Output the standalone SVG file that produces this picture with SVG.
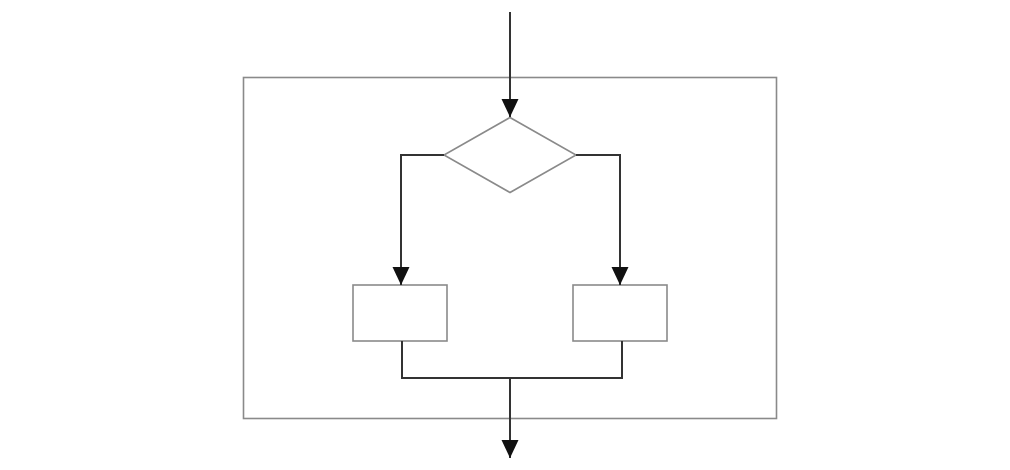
<svg xmlns="http://www.w3.org/2000/svg" width="1010" height="470" viewBox="0 0 1010 470">
<style>
.shape{fill:#fff;stroke:#8a8a8a;stroke-width:1.6}
.frame{fill:none;stroke:#8a8a8a;stroke-width:1.6}
.conn{fill:none;stroke:#333;stroke-width:2}
</style>
<defs>
<marker id="ah" viewBox="0 0 10 10" refX="10" refY="5" markerWidth="8.5" markerHeight="8.5" markerUnits="userSpaceOnUse" orient="auto">
<path d="M0,0 L10,5 L0,10 z" fill="#111"/>
</marker>
<marker id="arr" viewBox="0 0 18 18" refX="18" refY="9" markerWidth="18" markerHeight="18" markerUnits="userSpaceOnUse" orient="auto">
<path d="M0,0.5 L18,9 L0,17.5 z" fill="#111"/>
</marker>
</defs>
<rect width="1010" height="470" fill="#fff"/>
<g id="frame"><rect class="frame" x="243.5" y="77.5" width="533" height="341"/></g>
<g id="decision"><polygon class="shape" points="510,117.5 576,155 510,192.5 444,155"/></g>
<g id="box-left"><rect class="shape" x="353" y="285" width="94" height="56"/></g>
<g id="box-right"><rect class="shape" x="573" y="285" width="94" height="56"/></g>
<g id="connectors">
<path class="conn" d="M510,12 V117" marker-end="url(#arr)"/>
<path class="conn" d="M444,155 H401 V285" marker-end="url(#arr)"/>
<path class="conn" d="M576,155 H620 V285" marker-end="url(#arr)"/>
<path class="conn" d="M402,341 V378 H622 V341"/>
<path class="conn" d="M510,378 V458" marker-end="url(#arr)"/>
</g>
</svg>
